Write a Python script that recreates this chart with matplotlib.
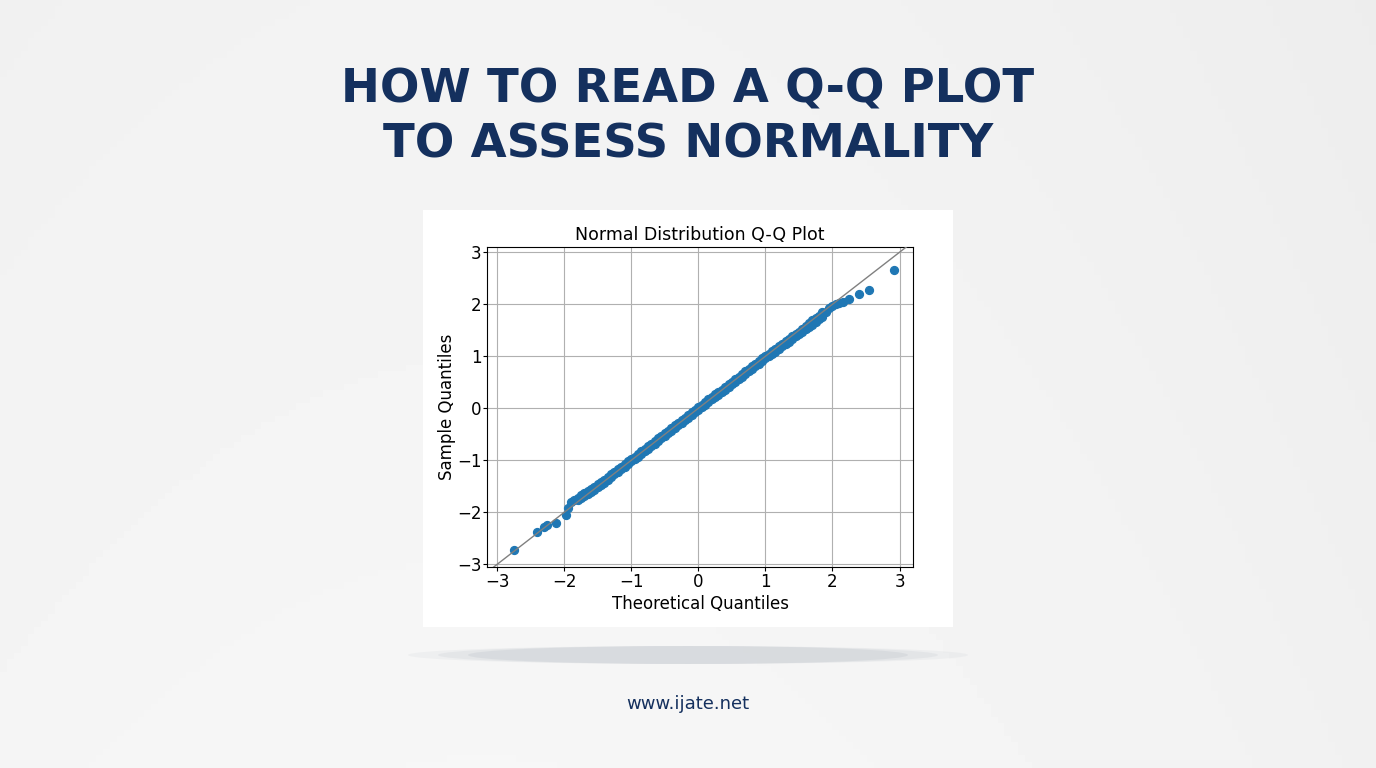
import numpy as np
import matplotlib.pyplot as plt
from matplotlib.patches import Rectangle, Ellipse

# Q-Q points (theoretical, sample)
tail_low_x = [-2.75, -2.40, -2.30, -2.25, -2.12, -1.97, -1.95, -1.90, -1.85]
tail_low_y = [-2.72, -2.38, -2.28, -2.25, -2.20, -2.05, -1.92, -1.80, -1.76]
mid_x = [-1.80, -1.75, -1.70, -1.65, -1.60, -1.55, -1.50, -1.45, -1.40, -1.35,
         -1.30, -1.25, -1.20, -1.15, -1.10, -1.05, -1.00, -0.95, -0.90, -0.85,
         -0.80, -0.75, -0.70, -0.65, -0.60, -0.55, -0.50, -0.45, -0.40, -0.35,
         -0.30, -0.25, -0.20, -0.15, -0.10, -0.05, 0.00, 0.05, 0.10, 0.15,
         0.20, 0.25, 0.30, 0.35, 0.40, 0.45, 0.50, 0.55, 0.60, 0.65,
         0.70, 0.75, 0.80, 0.85, 0.90, 0.95, 1.00, 1.05, 1.10, 1.15,
         1.20, 1.25, 1.30, 1.35, 1.40, 1.45, 1.50, 1.55, 1.60, 1.65,
         1.70, 1.75, 1.80, 1.85]
# upper and lower edges of the dense band
mid_y_hi = [-1.72, -1.67, -1.63, -1.59, -1.55, -1.51, -1.46, -1.41, -1.37, -1.32,
            -1.27, -1.22, -1.17, -1.12, -1.07, -1.02, -0.97, -0.93, -0.88, -0.83,
            -0.78, -0.73, -0.68, -0.63, -0.58, -0.53, -0.48, -0.43, -0.38, -0.33,
            -0.28, -0.23, -0.18, -0.13, -0.08, -0.03, 0.02, 0.07, 0.12, 0.17,
            0.22, 0.27, 0.31, 0.36, 0.41, 0.46, 0.51, 0.56, 0.61, 0.66,
            0.71, 0.76, 0.81, 0.86, 0.91, 0.96, 1.01, 1.05, 1.10, 1.14,
            1.19, 1.24, 1.29, 1.33, 1.38, 1.43, 1.47, 1.52, 1.58, 1.64,
            1.69, 1.74, 1.78, 1.86]
mid_y_lo = [-1.77, -1.73, -1.69, -1.65, -1.61, -1.57, -1.52, -1.47, -1.43, -1.38,
            -1.32, -1.27, -1.22, -1.17, -1.12, -1.07, -1.02, -0.98, -0.93, -0.88,
            -0.83, -0.78, -0.73, -0.68, -0.63, -0.58, -0.53, -0.48, -0.43, -0.38,
            -0.33, -0.28, -0.23, -0.18, -0.13, -0.08, -0.03, 0.02, 0.07, 0.12,
            0.17, 0.22, 0.26, 0.31, 0.36, 0.41, 0.46, 0.51, 0.56, 0.61,
            0.66, 0.71, 0.76, 0.81, 0.86, 0.91, 0.96, 1.00, 1.05, 1.09,
            1.14, 1.19, 1.24, 1.28, 1.33, 1.38, 1.42, 1.47, 1.52, 1.56,
            1.61, 1.66, 1.71, 1.76]
tail_high_x = [1.90, 1.95, 2.00, 2.05, 2.10, 2.15, 2.25, 2.40, 2.55, 2.92]
tail_high_y = [1.86, 1.92, 1.97, 2.00, 2.03, 2.05, 2.10, 2.20, 2.28, 2.65]
ticks = [-3, -2, -1, 0, 1, 2, 3]

W, H = 1376, 768
fig = plt.figure(figsize=(W / 100, H / 100), dpi=100)

# background gradient
bg = fig.add_axes([0, 0, 1, 1])
gx = np.linspace(0, 1, 200)
gy = np.linspace(0, 1, 120)
GX, GY = np.meshgrid(gx, gy)
shade = 0.965 - 0.05 * ((GX - 0.35) ** 2) - 0.015 * (1 - GY)
bg.imshow(shade, cmap='gray', vmin=0, vmax=1, extent=[0, W, H, 0], aspect='auto')
for w, a in [(560, 0.12), (500, 0.18), (440, 0.25)]:
    bg.add_patch(Ellipse((688, 655), w, 18, color='#b8bec6', alpha=a, lw=0))
bg.add_patch(Rectangle((423, 210), 530, 417, color='white', lw=0))
bg.set_xlim(0, W)
bg.set_ylim(H, 0)
bg.axis('off')

navy = '#14305e'
fig.text(0.5, 1 - 90 / H, 'HOW TO READ A Q-Q PLOT', ha='center', va='center',
         fontsize=33.5, fontweight='bold', color=navy, family='DejaVu Sans')
fig.text(0.5, 1 - 145 / H, 'TO ASSESS NORMALITY', ha='center', va='center',
         fontsize=33.5, fontweight='bold', color=navy, family='DejaVu Sans')
fig.text(0.5, 1 - 704 / H, 'www.ijate.net', ha='center', va='center',
         fontsize=13, color=navy)

ax = fig.add_axes([487 / W, 1 - 567 / H, (913 - 487) / W, (567 - 247) / H])
ax.plot([-3.15, 3.2], [-3.15, 3.2], color='grey', lw=1, zorder=3)
xs = tail_low_x + mid_x + mid_x + tail_high_x
ys = tail_low_y + mid_y_hi + mid_y_lo + tail_high_y
ax.scatter(xs, ys, s=32, color='#1f77b4', zorder=2)
ax.set_xlim(-3.15, 3.2)
ax.set_ylim(-3.05, 3.1)
ax.set_xticks(ticks)
ax.set_yticks(ticks)
ax.set_xticklabels([str(t).replace('-', '\u2212') for t in ticks])
ax.set_yticklabels([str(t).replace('-', '\u2212') for t in ticks])
ax.tick_params(labelsize=12, length=3, pad=1)
ax.grid(True, color='#b0b0b0', lw=0.8)
ax.set_axisbelow(True)
ax.set_title('Normal Distribution Q-Q Plot', fontsize=12.5, pad=5)
ax.set_xlabel('Theoretical Quantiles', fontsize=12, labelpad=3)
ax.set_ylabel('Sample Quantiles', fontsize=12, labelpad=1)

fig.savefig('out.png', dpi=100)
